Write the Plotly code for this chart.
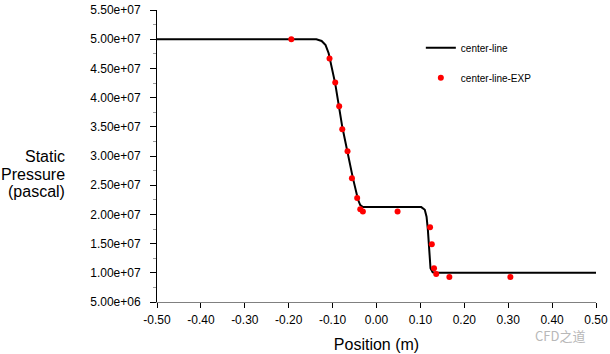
import plotly.graph_objects as go

# Simulation curve (center-line)
line_x = [-0.50, -0.137, -0.125, -0.116, -0.109, -0.094, -0.078, -0.066, -0.054, -0.042,
          -0.037, -0.031, 0.102, 0.110, 0.114, 0.117, 0.120, 0.123, 0.128, 0.136, 0.50]
line_y = [5.00e7, 5.00e7, 4.97e7, 4.90e7, 4.76e7, 4.24e7, 3.50e7, 3.06e7, 2.63e7, 2.25e7,
          2.16e7, 2.125e7, 2.125e7, 2.08e7, 1.96e7, 1.74e7, 1.28e7, 1.08e7, 1.01e7, 1.00e7, 1.00e7]

# Experimental points (center-line-EXP)
exp_x = [-0.194, -0.107, -0.094, -0.085, -0.078, -0.066, -0.056, -0.044, -0.037, -0.031,
         0.048, 0.122, 0.126, 0.131, 0.136, 0.166, 0.305]
exp_y = [5.00e7, 4.67e7, 4.26e7, 3.85e7, 3.46e7, 3.08e7, 2.62e7, 2.28e7, 2.09e7, 2.05e7,
         2.05e7, 1.78e7, 1.49e7, 1.08e7, 0.98e7, 0.93e7, 0.93e7]

x_ticks = [-0.5, -0.4, -0.3, -0.2, -0.1, 0.0, 0.1, 0.2, 0.3, 0.4, 0.5]
x_ticktext = ["-0.50", "-0.40", "-0.30", "-0.20", "-0.10", "0.00", "0.10", "0.20", "0.30", "0.40", "0.50"]
y_ticks = [5e6, 1e7, 1.5e7, 2e7, 2.5e7, 3e7, 3.5e7, 4e7, 4.5e7, 5e7, 5.5e7]
y_ticktext = ["5.00e+06", "1.00e+07", "1.50e+07", "2.00e+07", "2.50e+07", "3.00e+07",
              "3.50e+07", "4.00e+07", "4.50e+07", "5.00e+07", "5.50e+07"]

FONT = "Arial, Liberation Sans, sans-serif"

fig = go.Figure()
fig.add_trace(go.Scatter(x=line_x, y=line_y, mode="lines", name="center-line",
                         line=dict(color="black", width=2), legendgroup="a"))
fig.add_trace(go.Scatter(x=exp_x, y=exp_y, mode="markers", name="center-line-EXP",
                         marker=dict(color="#ff0000", size=6), legendgroup="b"))

fig.update_layout(
    width=610, height=354,
    margin=dict(l=157, r=14, t=10, b=52, autoexpand=False),
    paper_bgcolor="white", plot_bgcolor="white",
    font=dict(family=FONT, color="black"),
    legend=dict(x=0.601, y=0.92, xanchor="left", yanchor="top",
                font=dict(size=10, family=FONT), itemwidth=30, tracegroupgap=11,
                bgcolor="rgba(0,0,0,0)"),
    xaxis=dict(range=[-0.5, 0.5], tickvals=x_ticks, ticktext=x_ticktext, automargin=False,
               showgrid=False, zeroline=False, showline=True, linecolor="#808080", linewidth=1,
               ticks="outside", ticklen=5, tickcolor="black", tickfont=dict(size=12),
               ticklabelstandoff=2,
               title=dict(text="Position (m)", font=dict(size=16), standoff=12)),
    yaxis=dict(range=[5e6, 5.5e7], tickvals=y_ticks, ticktext=y_ticktext, automargin=False,
               showgrid=False, zeroline=False, showline=True, linecolor="black", linewidth=1,
               ticks="outside", ticklen=6, tickcolor="black", tickfont=dict(size=12),
               ticklabelstandoff=7,
               minor=dict(dtick=2.5e6, ticks="outside", ticklen=3, tickcolor="#999999", tick0=5e6)),
)

for txt, yy in [("Static", 157), ("Pressure", 175), ("(pascal)", 192)]:
    fig.add_annotation(text=txt, xref="paper", yref="paper",
                       x=(67 - 157) / 439, y=1 - (yy - 10) / 292.3,
                       xanchor="right", yanchor="middle", showarrow=False,
                       font=dict(size=16, family=FONT))

fig.add_annotation(text="CFD之道", xref="paper", yref="paper",
                   x=(533 - 157) / 439, y=1 - (336 - 10) / 292.3,
                   xanchor="left", yanchor="middle", showarrow=False,
                   font=dict(size=13, family="Noto Sans CJK SC", color="#b8b8b8"))

fig.write_html("out.html")
